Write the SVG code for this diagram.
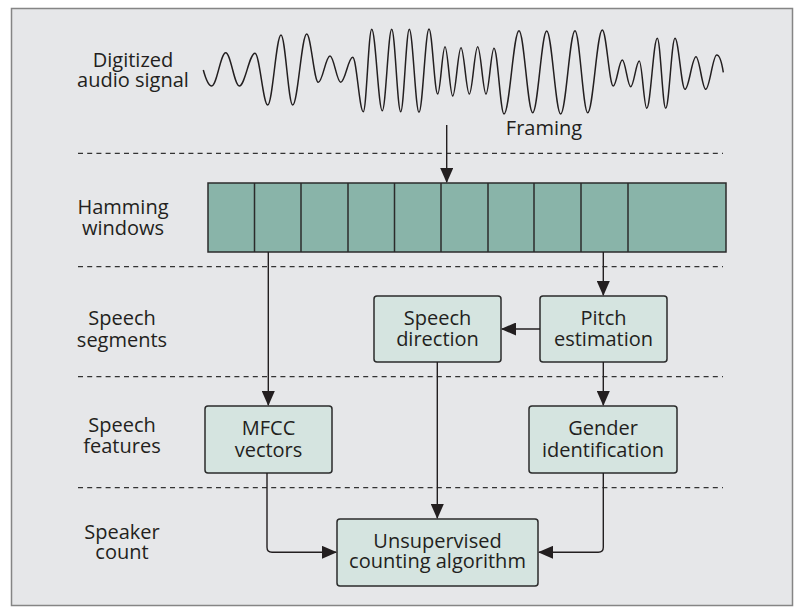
<svg xmlns="http://www.w3.org/2000/svg" width="800" height="607" viewBox="0 0 800 607">
<style>
text{font-family:"Open Sans","Noto Sans","Liberation Sans",sans-serif;font-size:20px;fill:#231f20;text-anchor:middle}
.node{fill:#d5e4e0;stroke:#2b2b2b;stroke-width:1.5}
.cell{fill:#89b4a9;stroke:#2b2b2b;stroke-width:1.5}
.dash{stroke:#333;stroke-width:1.3;stroke-dasharray:5 4.2;fill:none}
.conn{stroke:#231f20;stroke-width:1.4;fill:none;marker-end:url(#ah)}
</style>
<defs>
<marker id="ah" markerUnits="userSpaceOnUse" viewBox="0 0 15 13" refX="14" refY="6.5" markerWidth="15" markerHeight="13" orient="auto">
<path d="M0,0 L15,6.5 L0,13 z" fill="#231f20"/>
</marker>
</defs>
<rect x="0" y="0" width="800" height="607" fill="#ffffff"/>
<rect x="11.5" y="8.5" width="781" height="597" fill="#e6e7e9" stroke="#858585" stroke-width="1.5"/>

<g id="separators">
<line class="dash" x1="78" y1="153.3" x2="723" y2="153.3"/>
<line class="dash" x1="78" y1="266.7" x2="723" y2="266.7"/>
<line class="dash" x1="78" y1="376.7" x2="723" y2="376.7"/>
<line class="dash" x1="78" y1="487.7" x2="723" y2="487.7"/>
</g>

<g id="row-labels">
<text x="133" y="66.7">Digitized</text>
<text x="133" y="87.3">audio signal</text>
<text x="123" y="214.3">Hamming</text>
<text x="123" y="234.5">windows</text>
<text x="122" y="325">Speech</text>
<text x="122" y="346.5">segments</text>
<text x="122" y="431.7">Speech</text>
<text x="122" y="453.3">features</text>
<text x="122" y="539.3">Speaker</text>
<text x="122" y="559.3">count</text>
</g>

<g id="audio-signal">
<path fill="none" stroke="#231f20" stroke-width="1.5" d="M203.3,70 C205.5,78 208.6,86 211.7,86 C216.8,86 220.6,52.7 225.7,52.7 C230.7,52.7 234.4,86 239.3,86 C245,86 249.3,53.3 255,53.3 C259.6,53.3 263.1,105 267.7,105 C272.5,105 276.2,35 281,35 C285.3,35 288.4,105 292.7,105 C297.8,105 301.6,34 306.7,34 C310.9,34 314.1,82.3 318.3,82.3 C322.6,82.3 325.7,56 330,56 C333.9,56 336.8,82.3 340.7,82.3 C345.1,82.3 348.3,57.3 352.7,57.3 C356.6,57.3 359.4,111.7 363.3,111.7 C366.4,111.7 368.6,29.3 371.7,29.3 C375.6,29.3 378.4,110.7 382.3,110.7 C385.7,110.7 388.3,29.3 391.7,29.3 C395,29.3 397.4,111.7 400.7,111.7 C403.8,111.7 406.2,29.3 409.3,29.3 C412.8,29.3 415.5,112.3 419,112.3 C422.6,112.3 425.4,29 429,29 C432.2,29 434.5,94 437.7,94 C440.4,94 442.3,46.7 445,46.7 C447.8,46.7 449.9,96 452.7,96 C455.7,96 458,47.7 461,47.7 C464,47.7 466.3,94 469.3,94 C472.4,94 474.6,46.7 477.7,46.7 C480.7,46.7 483,94 486,94 C488.9,94 491.1,48.3 494,48.3 C497.6,48.3 500.4,114 504,114 C509.5,114 513.5,30.7 519,30.7 C524,30.7 527.7,112.7 532.7,112.7 C537.8,112.7 541.6,31 546.7,31 C551.8,31 555.6,114 560.7,114 C565.9,114 569.8,30.7 575,30.7 C579.6,30.7 583.1,112.7 587.7,112.7 C593,112.7 597,30 602.3,30 C606.3,30 609.3,86 613.3,86 C616.6,86 619,60 622.3,60 C625.4,60 627.6,86.7 630.7,86.7 C633.8,86.7 636.2,61 639.3,61 C642,61 644,108.3 646.7,108.3 C650.6,108.3 653.4,38.3 657.3,38.3 C660.4,38.3 662.6,108.3 665.7,108.3 C669.1,108.3 671.6,38.3 675,38.3 C678.6,38.3 681.4,89.3 685,89.3 C689,89.3 692,56.7 696,56.7 C699.5,56.7 702.2,89.3 705.7,89.3 C709.7,89.3 712.7,55 716.7,55 C720,55 722,64 723.3,72.3"/>
<text x="544" y="135">Framing</text>
</g>

<g id="hamming-windows">
<rect class="cell" x="208" y="183" width="518" height="69"/>
<line class="cell" x1="254.5" y1="183" x2="254.5" y2="252"/>
<line class="cell" x1="301" y1="183" x2="301" y2="252"/>
<line class="cell" x1="348" y1="183" x2="348" y2="252"/>
<line class="cell" x1="394.5" y1="183" x2="394.5" y2="252"/>
<line class="cell" x1="441" y1="183" x2="441" y2="252"/>
<line class="cell" x1="488" y1="183" x2="488" y2="252"/>
<line class="cell" x1="534" y1="183" x2="534" y2="252"/>
<line class="cell" x1="581" y1="183" x2="581" y2="252"/>
<line class="cell" x1="628" y1="183" x2="628" y2="252"/>
</g>

<g id="speech-direction">
<rect class="node" x="374" y="296" width="127" height="66" rx="3"/>
<text x="437.5" y="325">Speech</text>
<text x="437.5" y="346">direction</text>
</g>

<g id="pitch-estimation">
<rect class="node" x="540" y="296" width="127" height="66" rx="3"/>
<text x="603.5" y="325">Pitch</text>
<text x="603.5" y="346">estimation</text>
</g>

<g id="mfcc-vectors">
<rect class="node" x="205" y="406" width="127" height="67" rx="3"/>
<text x="268.5" y="435">MFCC</text>
<text x="268.5" y="456.7">vectors</text>
</g>

<g id="gender-identification">
<rect class="node" x="529" y="406" width="148" height="67" rx="3"/>
<text x="603" y="435">Gender</text>
<text x="603" y="456.7">identification</text>
</g>

<g id="unsupervised-counting">
<rect class="node" x="337" y="519" width="201" height="67" rx="3"/>
<text x="437.5" y="548.3">Unsupervised</text>
<text x="437.5" y="568.3">counting algorithm</text>
</g>

<g id="connectors">
<path class="conn" d="M446.7,125 L446.7,182"/>
<path class="conn" d="M268.3,252 L268.3,405"/>
<path class="conn" d="M603.3,252 L603.3,295"/>
<path class="conn" d="M540,329 L502,329"/>
<path class="conn" d="M603.3,362 L603.3,405"/>
<path class="conn" d="M437.3,362 L437.3,518"/>
<path class="conn" d="M267,473 L267,547.3 Q267,552.3 272,552.3 L336,552.3"/>
<path class="conn" d="M603.3,473 L603.3,547.3 Q603.3,552.3 598.3,552.3 L539,552.3"/>
</g>
</svg>
